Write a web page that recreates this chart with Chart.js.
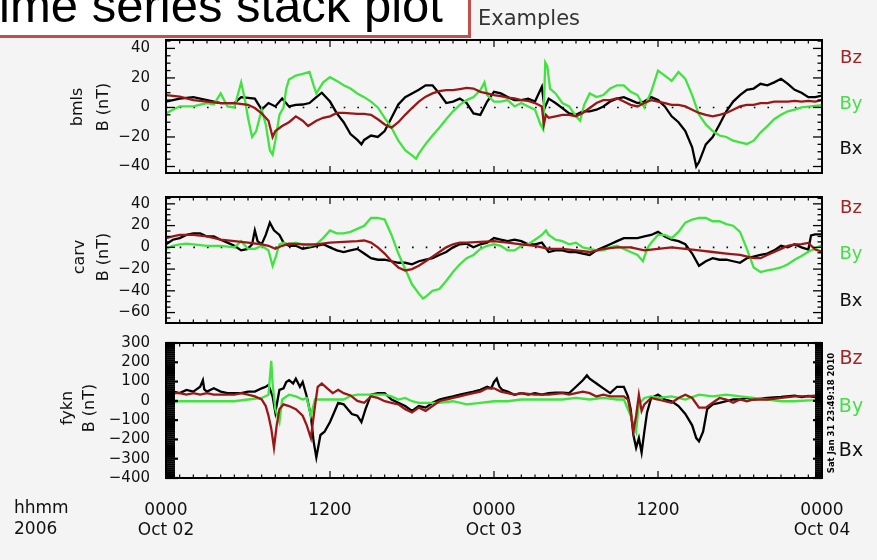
<!DOCTYPE html>
<html><head><meta charset="utf-8">
<script src="https://cdn.jsdelivr.net/npm/chart.js@4.4.1/dist/chart.umd.min.js"></script>
<style>
html,body{margin:0;padding:0;background:#f4f4f4;width:877px;height:560px;overflow:hidden;position:relative;font-family:"DejaVu Sans",sans-serif;}
canvas{position:absolute;left:0;}
.c{position:absolute;white-space:nowrap;transform:translate(-50%,-50%);line-height:1.2;}
.r{position:absolute;white-space:nowrap;transform:translate(-50%,-50%) rotate(-90deg);line-height:1.2;color:#111;font-size:16px;}
.l{position:absolute;white-space:nowrap;transform:translateY(-50%);line-height:1.2;color:#111;font-size:17px;}
#titlebox{position:absolute;box-sizing:border-box;left:-20px;top:-30px;width:491px;height:68px;background:#fff;border:3px solid #c0504d;z-index:5;}
#title{position:absolute;left:-29px;top:-19px;font-family:"Liberation Sans",Arial,sans-serif;font-size:49px;line-height:48px;color:#000;white-space:nowrap;z-index:6;}
</style></head>
<body>
<canvas id="p1" width="877" height="190" style="top:0px"></canvas>
<canvas id="p2" width="877" height="160" style="top:180px"></canvas>
<canvas id="p3" width="877" height="234" style="top:326px"></canvas>

<div id="titlebox"></div>
<div id="title">Time series stack plot</div>
<div class="l" style="left:478px;top:19px;font-size:21px;color:#333;">Examples</div>

<div class="r" style="left:77px;top:107px;">bmls</div>
<div class="r" style="left:103px;top:107px;">B (nT)</div>
<div class="r" style="left:79px;top:257px;">carv</div>
<div class="r" style="left:103px;top:257px;">B (nT)</div>
<div class="r" style="left:67px;top:408px;">fykn</div>
<div class="r" style="left:89px;top:408px;">B (nT)</div>

<div class="c" style="left:851px;top:57px;font-size:18px;color:#a02525;">Bz</div>
<div class="c" style="left:851px;top:103px;font-size:18px;color:#45e045;">By</div>
<div class="c" style="left:851px;top:148px;font-size:18px;color:#111;">Bx</div>
<div class="c" style="left:851px;top:207px;font-size:18px;color:#a02525;">Bz</div>
<div class="c" style="left:851px;top:253px;font-size:18px;color:#45e045;">By</div>
<div class="c" style="left:851px;top:300px;font-size:18px;color:#111;">Bx</div>
<div class="c" style="left:851px;top:357px;font-size:19px;color:#a02525;">Bz</div>
<div class="c" style="left:851px;top:405px;font-size:19px;color:#45e045;">By</div>
<div class="c" style="left:851px;top:449px;font-size:19px;color:#111;">Bx</div>

<div class="r" style="left:831px;top:413px;font-size:8.5px;font-weight:bold;color:#000;">Sat Jan 31 23:49:18 2010</div>

<div class="l" style="left:14px;top:507px;">hhmm</div>
<div class="l" style="left:14px;top:528px;">2006</div>

<script>
// ---- axis ticks ----
const xTicks = [0, 12, 24, 36, 48];
const xTickTop = ['0000', '1200', '0000', '1200', '0000'];
const xTickBottom = ['Oct 02', '', 'Oct 03', '', 'Oct 04'];
const bmlsTicks = [40, 20, 0, -20, -40];
const carvTicks = [40, 20, 0, -20, -40, -60];
const fyknTicks = [300, 200, 100, 0, -100, -200, -300, -400];
const zeroLine = [[0, 0], [48, 0]];

// ---- bmls (hours since Oct 02 0000, nT) ----
const bmlsBx = [[0,4],[1,6],[2,7],[3,5],[4,3],[5,3],[5.5,7],[6.5,6],[7,-1.5],[7.5,3],[8,0.7],[8.5,6],[9,0.7],[9.5,1.8],[10,2],[10.5,3],[11,7],[11.4,10],[12,4],[12.5,-4],[13,-10],[13.5,-18],[14,-22],[14.3,-25],[14.5,-22],[15,-19],[15.5,-20],[16,-16],[16.5,-7],[17,2],[17.5,7],[18,9.5],[18.5,12],[19,15],[19.5,15],[20,9.5],[20.5,3],[21,4],[21.5,6],[22,3],[22.5,-4],[23,-5],[23.5,4],[24,10.6],[24.5,9.5],[25,7],[25.5,5],[26,5],[26.5,6],[27,4],[27.5,14],[27.7,-0.5],[28,6],[28.5,3],[29,-0.4],[29.5,-4],[30,-5],[30.5,-2.6],[31,-2.6],[31.5,-1.5],[32,0.7],[32.5,4],[33,6],[33.5,7],[34,5],[34.5,3],[35,4],[35.5,7],[36,5],[36.5,0.7],[37,-6],[37.5,-10],[38,-16],[38.5,-27],[38.8,-40],[39,-37],[39.5,-25],[40,-20],[40.5,-11.5],[41,-2.6],[41.5,4],[42,8.4],[42.5,12],[43,12.8],[43.5,16],[44,15],[44.5,17],[45,19.4],[45.5,16],[46,12],[46.5,10],[47,7],[47.5,7],[48,8]];
const bmlsBy = [[0,-4],[0.5,-1.5],[1,0.7],[2,0.7],[3,3],[3.5,2],[4,9.5],[4.5,0.7],[5,0],[5.5,17],[5.8,4],[6,-7],[6.3,-20],[6.6,-16],[7,-1.5],[7.3,-11.5],[7.6,-29],[7.8,-32],[8,-22.5],[8.3,-5],[8.6,0],[8.8,12.8],[9,19],[9.5,21.6],[10,22.7],[10.5,24],[10.8,15],[11,9.5],[11.5,17],[12,20.5],[12.5,18],[13,15],[13.5,12.8],[14,9.5],[14.5,7],[15,4],[15.5,0],[16,-7],[16.5,-13.7],[17,-22.5],[17.5,-29],[18,-32.5],[18.3,-34.7],[18.5,-31.3],[19,-24.7],[19.5,-19],[20,-13.7],[20.5,-8],[21,-2.6],[21.5,1.8],[22,5],[22.5,7],[23,11.7],[23.3,17],[23.5,8.4],[24,4],[24.5,4],[25,5],[25.5,0.7],[26,3],[26.5,0.7],[27,-1.5],[27.4,-11.5],[27.6,-14.8],[27.75,30.5],[27.9,28],[28.1,12.8],[28.5,9.5],[29,3],[29.5,0.7],[30,-6],[30.3,-9],[30.6,1.8],[31,9.5],[31.5,7],[32,8.4],[32.5,12.8],[33,15],[33.5,15],[34,10.6],[34.5,8.4],[35,0],[35.5,10.6],[36,25],[36.5,21.6],[37,18],[37.5,24],[38,19.4],[38.5,8.4],[39,-5],[39.5,-11.5],[40,-16],[40.5,-19],[41,-20],[41.5,-22.5],[42,-23.6],[42.5,-24.7],[43,-22.5],[43.5,-17],[44,-12.6],[44.5,-8],[45,-5],[45.5,-2.6],[46,-1.5],[46.5,0],[47,0.5],[47.5,1],[48,1.5]];
const bmlsBz = [[0,8.4],[1,7.3],[2,5],[3,4],[4,3],[5,3],[6,1.8],[6.5,-0.4],[7,-4],[7.5,-9],[7.8,-20],[8,-16],[8.5,-12.6],[9,-10],[9.5,-6],[10,-9],[10.4,-12.6],[11,-9],[11.5,-7],[12,-6],[12.5,-3.7],[13,-3.7],[14,-4.4],[14.5,-4.4],[15,-5],[15.5,-8],[16,-11.5],[16.5,-13.7],[17,-10],[17.5,-5],[18,-0.4],[18.5,4],[19,7.3],[19.5,9.5],[20,11],[20.5,11.7],[21,11.7],[21.5,12.4],[22,13.2],[22.5,12.8],[23,10.6],[23.5,9.5],[24,8.4],[24.5,7.7],[25,6.6],[25.5,6.2],[26,5],[26.5,4.4],[27,3],[27.5,0.7],[27.65,-11.5],[27.8,-5],[28,-7],[28.5,-6],[29,-5],[29.5,-5],[30,-6],[30.5,-3.7],[31,-0.4],[31.5,3],[32,5],[32.5,5],[33,6.2],[33.5,4],[34,1.8],[34.5,0.7],[35,3],[35.5,5],[36,4],[36.5,3],[37,1.8],[37.5,1.8],[38,0.7],[38.5,-1.5],[39,-3.7],[39.5,-5],[40,-6],[40.5,-5],[41,-3.7],[41.5,-1.5],[42,0.7],[42.5,1.8],[43,1.8],[43.5,3],[44,3],[44.5,4],[45,4],[45.5,4],[46,4.4],[46.5,4],[47,4.5],[47.5,4],[48,5]];

// ---- carv ----
const carvBx = [[0,2.8],[0.5,7],[1,8.5],[1.5,11.4],[2,12.8],[2.5,12.8],[3,10],[3.5,10],[4,7],[4.5,4.3],[5,1.4],[5.5,-2.8],[6,-1.4],[6.3,2.8],[6.5,15.6],[6.7,5.7],[7,2.8],[7.3,11.4],[7.6,22.7],[7.9,15.6],[8.3,11.4],[8.6,4.3],[9,1.4],[9.5,1.4],[10,-1.4],[10.5,0],[11,1.4],[11.5,2.8],[12,0],[12.5,-2.8],[13,-4.3],[13.5,-2.8],[14,-1.4],[14.5,-5.7],[15,-10],[15.5,-11.4],[16,-11.4],[16.5,-12.8],[17,-14.2],[17.5,-14.2],[18,-15.6],[18.5,-12.8],[19,-11.4],[19.5,-10],[20,-7],[20.5,-4.3],[21,0],[21.5,2.8],[22,3.4],[22.5,0],[23,2.8],[23.5,4.3],[24,8.5],[24.5,7],[25,5.7],[25.5,7],[26,5.7],[26.5,2.8],[27,2.8],[27.5,4.3],[28,-4.3],[28.5,-2.8],[29,-2.8],[29.5,-4.3],[30,-4.3],[30.5,-5.7],[31,-7],[31.5,-2.8],[32,0],[32.5,2.8],[33,5.7],[33.5,8.5],[34,8.5],[34.5,8.5],[35,10],[35.5,11.4],[36,14.2],[36.5,10],[37,7],[37.5,5.7],[38,2.8],[38.5,-5.7],[39,-17],[39.5,-12.8],[40,-10],[40.5,-11.4],[41,-11.4],[41.5,-12.8],[42,-14.2],[42.5,-10],[43,-8.5],[43.5,-7],[44,-5.7],[44.5,-2.8],[45,1.4],[45.5,0],[46,2.8],[46.5,0],[47,-2],[47.2,11],[47.5,12],[48,12]];
const carvBy = [[0,-1.4],[0.5,1.4],[1,2.8],[1.5,3.4],[2,2.8],[3,1.4],[4,1.4],[5,0],[5.5,5.7],[6,-1.4],[6.5,-1.4],[7,1.4],[7.5,-2.8],[7.8,-17],[8,-10],[8.3,2.8],[8.6,4.3],[9,2.8],[9.5,4.3],[10,2.8],[10.5,1.4],[11,2.8],[11.5,8.5],[12,15.6],[12.5,12.8],[13,12.8],[13.5,14.2],[14,17],[14.5,19.9],[15,27],[15.5,27],[16,25.6],[16.5,11.4],[17,-5.7],[17.5,-20],[18,-34],[18.5,-42.6],[18.8,-47],[19,-45.5],[19.5,-40],[20,-38.4],[20.5,-31],[21,-22.7],[21.5,-15.6],[22,-10],[22.5,-7],[23,-1.4],[23.5,1.4],[24,2.8],[24.5,1.4],[25,-2.8],[25.5,-2.8],[26,1.4],[26.5,2.8],[27,7],[27.5,11.4],[27.8,15.6],[28,11.4],[28.5,7],[29,5.7],[29.5,2.8],[30,4.3],[30.5,0],[31,-1.4],[31.5,-2.8],[32,-2.8],[32.5,0],[33,1.4],[33.5,-1.4],[34,-4.3],[34.5,-7],[34.9,-12.8],[35.2,-1.4],[35.5,4.3],[36,11.4],[36.5,11.4],[37,8.5],[37.5,14.2],[38,22.7],[38.5,25.6],[39,27],[39.5,27],[40,24],[40.5,24],[41,21.3],[41.5,19.9],[42,14.2],[42.5,-1.4],[43,-18.5],[43.5,-22.7],[44,-21.3],[44.5,-20],[45,-18.5],[45.5,-15.6],[46,-11.4],[46.5,-8],[47,-4],[47.5,-1],[48,2]];
const carvBz = [[0,8.5],[0.5,10],[1,11.4],[1.5,11.4],[2,11.4],[3,10],[4,7],[5,5.7],[6,4.3],[7,2.8],[7.5,1.4],[8,-1.4],[8.5,1.4],[9,3.4],[10,2.8],[11,2.8],[12,4.3],[13,5.1],[14,5.7],[14.5,6.3],[15,4.3],[15.5,0],[16,-5.7],[16.5,-12.8],[17,-18.5],[17.5,-21.3],[18,-20],[18.5,-17],[19,-12.8],[19.5,-8.5],[20,-4.3],[20.5,0],[21,2.8],[21.5,4.3],[22,4.3],[23,5.1],[24,5.7],[25,4.3],[26,2.8],[27,1.4],[28,-1.4],[29,-1.4],[30,-2.8],[31,-4.3],[32,-1.4],[33,0],[34,0],[35,-2.8],[36,-1.4],[37,0],[38,-1.4],[39,-2.8],[40,-4.3],[41,-5.7],[42,-7],[43,-10],[43.5,-10],[44,-7],[45,-1.4],[45.5,1.4],[46,2.8],[46.5,3],[47,4],[47.5,-2],[48,-4]];

// ---- fykn ----
const fyknBx = [[0,23],[0.5,48],[1,40],[1.5,57],[2,48],[2.5,73],[2.7,107],[2.8,60],[3,48],[3.5,65],[4,48],[4.5,40],[5,40],[5.5,40],[6,48],[6.5,48],[7,65],[7.3,73],[7.5,82],[7.8,23],[8,-60],[8.3,57],[8.6,65],[8.8,98],[9,107],[9.3,90],[9.5,115],[9.8,73],[10,98],[10.3,23],[10.6,-77],[10.8,-210],[11,-293],[11.3,-177],[11.6,-160],[12,-110],[12.3,-60],[12.6,-10],[13,-18],[13.3,-43],[13.6,-68],[14,-77],[14.3,-110],[14.6,-43],[15,32],[15.5,40],[16,40],[16.5,7],[17,-10],[17.5,-27],[18,-52],[18.5,-27],[19,-35],[19.5,-10],[20,7],[20.5,15],[21,23],[21.5,32],[22,40],[22.5,48],[23,57],[23.5,73],[23.8,65],[24,98],[24.2,115],[24.4,73],[24.6,57],[25,48],[25.5,32],[26,40],[26.5,32],[27,40],[27.5,32],[28,40],[28.5,43],[29,43],[29.5,40],[30,73],[30.5,107],[30.8,132],[31,115],[31.5,90],[32,65],[32.5,40],[33,73],[33.5,73],[33.8,23],[34,-43],[34.2,-177],[34.4,-243],[34.6,-193],[34.8,-268],[35,-160],[35.2,-60],[35.5,15],[36,32],[36.5,7],[37,-2],[37.5,-27],[38,-68],[38.5,-127],[38.8,-193],[39,-210],[39.3,-160],[39.6,-43],[40,-18],[40.5,-10],[41,-2],[41.5,7],[42,7],[42.5,15],[43,7],[44,15],[45,20],[46,27],[46.5,20],[47,25],[47.5,20],[48,25]];
const fyknBy = [[0,-18],[1,-2],[2,-2],[3,-2],[4,-2],[5,-2],[6,7],[7,15],[7.5,32],[7.7,207],[7.8,90],[8,-43],[8.3,-110],[8.5,7],[9,32],[9.5,23],[10,7],[10.3,15],[10.6,-77],[10.9,7],[11.5,7],[12,7],[13,7],[13.5,25],[14,32],[15,32],[16,32],[16.5,23],[17,7],[17.5,15],[18,-2],[18.5,-10],[19,-10],[20,-10],[21,-2],[22,-18],[23,-10],[24,-2],[25,-2],[26,7],[27,7],[28,7],[29,7],[30,15],[31,7],[32,15],[33,7],[33.5,7],[34,-77],[34.4,-160],[34.6,-18],[35,15],[35.5,23],[36,15],[37,23],[38,7],[39,32],[40,23],[41,32],[42,23],[43,15],[44,7],[45,-2],[46,-2],[47,3],[48,2]];
const fyknBz = [[0,32],[0.5,40],[1,40],[1.5,32],[2,40],[2.5,32],[3,40],[3.5,32],[4,32],[5,32],[5.5,40],[6,32],[6.5,23],[7,7],[7.3,-27],[7.5,-77],[7.7,-143],[7.9,-243],[8.1,-127],[8.3,-43],[8.6,-18],[9,-27],[9.5,-43],[10,-77],[10.3,-127],[10.6,-193],[10.9,-27],[11.1,73],[11.4,90],[11.8,65],[12.2,40],[12.6,57],[13,40],[13.5,28],[14,0],[14.5,-10],[15,23],[15.5,15],[16,-2],[16.5,-10],[17,-18],[17.5,-43],[18,-60],[18.5,-35],[19,-52],[19.5,-27],[20,-2],[20.5,7],[21,15],[21.5,23],[22,32],[22.5,40],[23,48],[23.5,65],[24,65],[24.5,48],[25,40],[25.5,32],[26,40],[27,32],[28,32],[29,40],[29.5,32],[30,40],[30.5,48],[31,40],[31.5,23],[32,32],[32.5,23],[33,23],[33.5,23],[33.8,7],[34,-60],[34.2,-160],[34.4,-77],[34.6,32],[34.8,-52],[35,-18],[35.5,15],[36,7],[36.5,-2],[37,-10],[37.5,15],[38,32],[38.5,15],[39,-35],[39.5,-35],[40,-10],[40.5,15],[41,7],[41.5,-10],[42,7],[42.5,-2],[43,7],[44,7],[45,15],[46,23],[47,25],[48,30]];

const C_BZ = '#981818', C_BY = '#3fe43f', C_BX = '#000000';
const toXY = arr => arr.map(p => ({x: p[0], y: p[1]}));
const fmtY = v => (v < 0 ? '\u2212' + (-v) : String(v));

const framePlugin = {
  id: 'frame',
  afterDatasetsDraw(chart, args, o) {
    const {ctx, chartArea: a, scales: {x, y}} = chart;
    ctx.save();
    ctx.strokeStyle = '#000';
    const line = (x1, y1, x2, y2) => { ctx.beginPath(); ctx.moveTo(x1, y1); ctx.lineTo(x2, y2); ctx.stroke(); };
    ctx.lineWidth = 1.2;
    for (let h = 0; h <= 48; h++) {
      const px = x.getPixelForValue(h);
      const L = (h % 12 === 0) ? 7 : 3.5;
      line(px, a.top, px, a.top + L);
      line(px, a.bottom, px, a.bottom - L);
    }
    ctx.lineWidth = o.tickWidth;
    const start = Math.ceil(y.min / o.minor) * o.minor;
    for (let v = start; v <= y.max + 1e-9; v += o.minor) {
      const py = y.getPixelForValue(v);
      const major = Math.abs(v % o.major) < 1e-9;
      line(a.left, py, a.left + (major ? o.majL : o.minL), py);
      line(a.right, py, a.right - (major ? o.majR : o.minR), py);
    }
    ctx.lineWidth = 2;
    ctx.strokeRect(a.left, a.top, a.right - a.left, a.bottom - a.top);
    ctx.restore();
  }
};

function makePanel(id, p) {
  const ds = [
    {label: 'Bz', data: toXY(p.bz), borderColor: C_BZ, borderWidth: 2.3},
    {label: 'By', data: toXY(p.by), borderColor: C_BY, borderWidth: 2.3},
    {label: 'Bx', data: toXY(p.bx), borderColor: C_BX, borderWidth: 2.3}
  ];
  if (p.zero) ds.push({label: 'zero', data: toXY(zeroLine), borderColor: '#000', borderWidth: 1.6, borderDash: [1.6, 12.07]});
  return new Chart(document.getElementById(id), {
    type: 'line',
    data: {datasets: ds},
    plugins: [framePlugin],
    options: {
      responsive: false, animation: false, devicePixelRatio: 1,
      layout: {padding: {top: p.padTop, bottom: p.padBottom, left: 0, right: 55}},
      elements: {line: {tension: 0, fill: false}, point: {radius: 0}},
      plugins: {legend: {display: false}, tooltip: {enabled: false}, frame: p.frame},
      scales: {
        x: {
          type: 'linear', min: 0, max: 48, display: p.showX,
          grid: {display: false}, border: {display: false},
          afterBuildTicks: s => { s.ticks = xTicks.map(v => ({value: v})); },
          afterFit: s => { s.height = p.showX ? 82 : 0; },
          ticks: {
            autoSkip: false, maxRotation: 0, minRotation: 0, padding: 15, color: '#111',
            font: {family: 'DejaVu Sans', size: 17, lineHeight: 20 / 17},
            callback: (v, i) => [xTickTop[i], xTickBottom[i]]
          }
        },
        y: {
          type: 'linear', min: p.min, max: p.max,
          grid: {display: false}, border: {display: false},
          afterBuildTicks: s => { s.ticks = p.ticks.map(v => ({value: v})); },
          afterFit: s => { s.width = 166; },
          ticks: {autoSkip: false, padding: 8, color: '#111', font: {family: 'DejaVu Sans', size: 15}, callback: v => fmtY(v)}
        }
      }
    }
  });
}

makePanel('p1', {bx: bmlsBx, by: bmlsBy, bz: bmlsBz, zero: true, min: -44.4, max: 45.7, ticks: bmlsTicks,
  padTop: 40, padBottom: 15, showX: false,
  frame: {minor: 5, major: 20, minL: 4.5, majL: 9, minR: 4.5, majR: 9, tickWidth: 1.3}});
makePanel('p2', {bx: carvBx, by: carvBy, bz: carvBz, zero: true, min: -69.6, max: 46.3, ticks: carvTicks,
  padTop: 9, padBottom: 15, showX: false,
  frame: {minor: 5, major: 20, minL: 4.5, majL: 9, minR: 4.5, majR: 9, tickWidth: 1.3}});
makePanel('p3', {bx: fyknBx, by: fyknBy, bz: fyknBz, zero: false, min: -400, max: 300, ticks: fyknTicks,
  padTop: 12, padBottom: 0, showX: true,
  frame: {minor: 10, major: 100, minL: 9, majL: 12, minR: 7, majR: 9, tickWidth: 2.2}});
</script>
</body></html>
